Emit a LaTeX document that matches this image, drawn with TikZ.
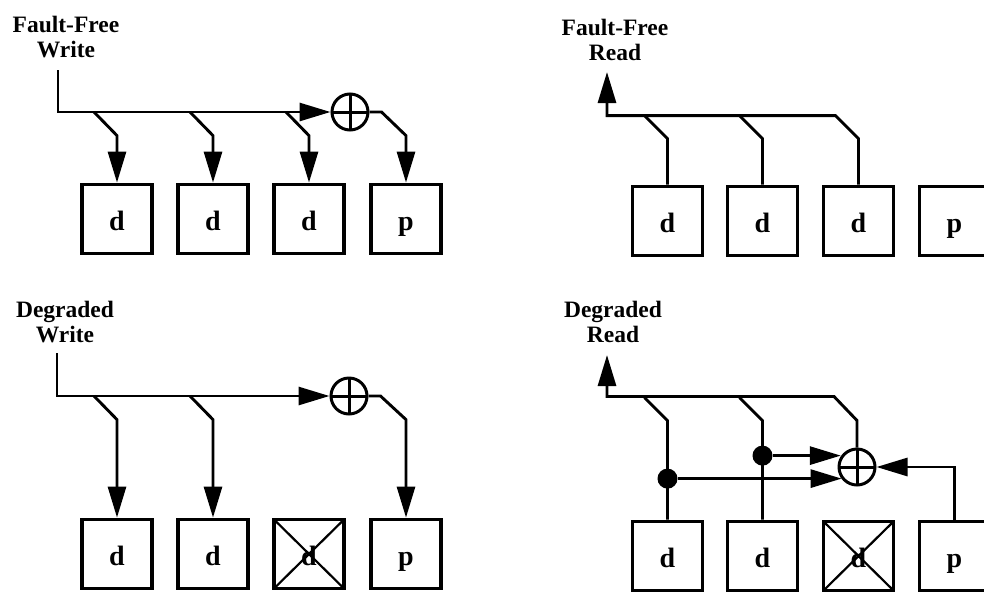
\documentclass[tikz,border=0pt]{standalone}
\usepackage{fontspec}
\setmainfont{Liberation Serif}
\usetikzlibrary{arrows.meta,positioning}

\begin{document}
\begin{tikzpicture}[x=1pt, y=-1pt,
    disk/.style={draw, line width=3.8pt, minimum width=70pt,
                 minimum height=69pt, inner sep=0pt,
                 text height=22pt, text depth=0pt,
                 font=\fontsize{28}{28}\selectfont\bfseries},
    lost/.style={disk, path picture={
        \draw[line width=2.2pt]
            (path picture bounding box.south west) -- (path picture bounding box.north east)
            (path picture bounding box.north west) -- (path picture bounding box.south east);}},
    xorc/.style={draw, circle, line width=3pt, minimum size=36pt, inner sep=0pt,
                 path picture={
        \draw[line width=3pt]
            (path picture bounding box.north) -- (path picture bounding box.south)
            (path picture bounding box.west) -- (path picture bounding box.east);}},
    op_label/.style={font=\fontsize{23.5}{25}\selectfont\bfseries, align=center},
    wire/.style={line width=2.9pt},
    flow/.style={wire, -{Triangle[length=31pt,width=18pt]}},
    tap/.style={circle, fill, minimum size=20pt, inner sep=0pt},
]
\useasboundingbox (0,0) rectangle (984,595);

% Fault-free write
\node[op_label] (fw_lab) at (66,37) {Fault-Free\\Write};
\foreach \n/\x/\t in {1/117/d, 2/213/d, 3/309/d, 4/406/p}
    \node[disk] (fw\n) at (\x,219) {\t};
\node[xorc] (fw_x) at (350,112) {};
\coordinate (fw_in) at (58,70);
\draw[flow] (fw_in) |- (fw_x.west);
\foreach \n in {1,2,3}
    \draw[flow] (fw\n.north |- fw_x) ++(-23,0) -- ([yshift=47pt]fw\n.north) -- (fw\n.north);
\draw[flow] (fw_x.east) -- ++(12,0) -- ([yshift=47pt]fw4.north) -- (fw4.north);

% Fault-free read
\node[op_label] (fr_lab) at (615,40) {Fault-Free\\Read};
\foreach \n/\x/\t in {1/667.5/d, 2/762.5/d, 3/858.5/d, 4/954.5/p}
    \node[disk] (fr\n) at (\x,221) {\t};
\coordinate (fr_out) at (607,72);
\draw[flow] (fr3.north) -- ([yshift=46pt]fr3.north) -- ++(-23,-23) -| (fr_out);
\foreach \n in {1,2}
    \draw[wire] (fr\n.north) -- ([yshift=46pt]fr\n.north) -- ++(-23,-23);

% Degraded write
\node[op_label] (dw_lab) at (65,322) {Degraded\\Write};
\foreach \n/\x/\t/\s in {1/117/d/disk, 2/213/d/disk, 3/309/d/lost, 4/406/p/disk}
    \node[\s] (dw\n) at (\x,554) {\t};
\node[xorc] (dw_x) at (349,396) {};
\coordinate (dw_in) at (57,353);
\draw[flow] (dw_in) |- (dw_x.west);
\foreach \n in {1,2}
    \draw[flow] (dw\n.north |- dw_x) ++(-23,0) -- ([yshift=98pt]dw\n.north) -- (dw\n.north);
\draw[flow] (dw_x.east) -- ++(12,0) -- ([yshift=98pt]dw4.north) -- (dw4.north);

% Degraded read
\node[op_label] (dr_lab) at (613,322) {Degraded\\Read};
\foreach \n/\x/\t/\s in {1/667.5/d/disk, 2/762.5/d/disk, 3/858.5/d/lost, 4/954.5/p/disk}
    \node[\s] (dr\n) at (\x,556) {\t};
\node[xorc] (dr_x) at (857,467) {};
\coordinate (dr_out) at (607,355);
\draw[flow] (dr_x.north) -- ++(0,-27) -- ++(-23,-24) -| (dr_out);
\foreach \n in {1,2}
    \draw[wire] (dr\n.north) -- ([yshift=99pt]dr\n.north) -- ++(-23,-23);
\node[tap] (dr_t1) at ([yshift=41pt]dr1.north) {};
\node[tap] (dr_t2) at ([yshift=64pt]dr2.north) {};
\draw[flow] (dr_t1) -- (dr_t1 -| dr_x.218);
\draw[flow] (dr_t2) -- (dr_t2 -| dr_x.146);
\draw[flow] (dr4.north) |- (dr_x.east);

\end{tikzpicture}
\end{document}
